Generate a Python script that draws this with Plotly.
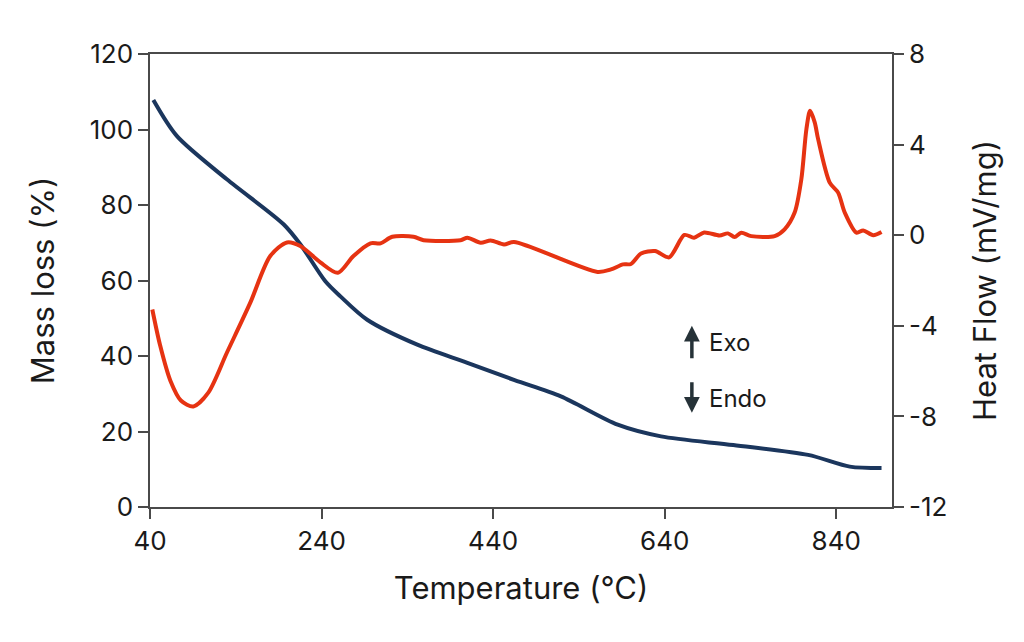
import plotly.graph_objects as go

# Mass loss (TGA) curve
mass_temp = [43.9, 71.2, 129.6, 195.7, 215.2, 244.4, 262.0, 293.2, 351.6, 410.0,
             465.0, 519.0, 585.2, 635.8, 720.0, 807.2, 855.8, 892.8]
mass_loss = [107.8, 98.3, 86.8, 74.9, 69.6, 59.8, 55.8, 49.6, 43.0, 38.2,
             33.6, 29.3, 21.8, 18.7, 16.4, 13.8, 10.7, 10.3]

# Heat flow (DSC) curve
hf_temp = [42.7, 51.7, 64.0, 76.0, 90.6, 108.0, 129.6, 156.8, 180.2, 199.7, 215.2,
           238.6, 259.0, 277.2, 297.0, 308.7, 322.4, 347.2, 358.9, 402.1, 410.0,
           425.5, 437.2, 452.7, 464.4, 561.8, 577.4, 591.4, 600.7, 612.4, 628.8,
           645.1, 663.0, 674.3, 686.0, 703.9, 713.7, 721.4, 729.3, 740.9, 768.2,
           779.8, 791.5, 799.3, 805.2, 809.5, 814.9, 818.9, 832.4, 842.2, 849.9,
           863.6, 871.4, 883.1, 892.8]
heat_flow = [-3.28, -4.85, -6.45, -7.30, -7.56, -6.95, -5.19, -2.99, -0.92, -0.32, -0.48,
             -1.20, -1.66, -0.92, -0.36, -0.36, -0.07, -0.07, -0.22, -0.22, -0.11,
             -0.33, -0.23, -0.41, -0.30, -1.62, -1.51, -1.29, -1.27, -0.81, -0.70,
             -0.98, 0.01, -0.11, 0.12, -0.01, 0.08, -0.08, 0.11, -0.04, -0.04,
             0.26, 1.00, 2.47, 4.68, 5.49, 4.98, 4.24, 2.32, 1.88, 1.00,
             0.11, 0.21, 0.00, 0.14]

x_ticks = [40, 240, 440, 640, 840]
left_ticks = [0, 20, 40, 60, 80, 100, 120]
right_ticks = [-12, -8, -4, 0, 4, 8]

FONT = "Inter"
AXIS_COLOR = "#4a4a4a"
TEXT_COLOR = "#1a1a1a"
TICK_SIZE = 26
TITLE_SIZE = 31

fig = go.Figure()
fig.add_trace(go.Scatter(x=mass_temp, y=mass_loss, mode="lines", yaxis="y",
                         line=dict(color="#1B365D", width=4, shape="spline", smoothing=0.8),
                         showlegend=False, hoverinfo="skip"))
fig.add_trace(go.Scatter(x=hf_temp, y=heat_flow, mode="lines", yaxis="y2",
                         line=dict(color="#E63312", width=4, shape="spline", smoothing=0.8),
                         showlegend=False, hoverinfo="skip"))

axis_common = dict(showgrid=False, zeroline=False, showline=True, linecolor=AXIS_COLOR,
                   linewidth=1.5, ticks="outside", ticklen=10, tickcolor=AXIS_COLOR,
                   tickwidth=1.5, tickfont=dict(size=TICK_SIZE, family=FONT, color=TEXT_COLOR))

fig.update_layout(
    width=1024, height=642,
    margin=dict(l=142, r=140, t=46, b=143, autoexpand=False),
    paper_bgcolor="white", plot_bgcolor="white",
    font=dict(family=FONT, color=TEXT_COLOR, size=22),
    xaxis=dict(range=[40, 905], tickvals=x_ticks, mirror=True,
               title=dict(text="Temperature (°C)", font=dict(size=TITLE_SIZE, family=FONT, color=TEXT_COLOR),
                          standoff=22),
               **axis_common),
    yaxis=dict(range=[0, 120], tickvals=left_ticks,
               title=dict(text="Mass loss (%)", font=dict(size=TITLE_SIZE, family=FONT, color=TEXT_COLOR),
                          standoff=26),
               **axis_common),
    yaxis2=dict(range=[-12, 8], tickvals=right_ticks, ticktext=[str(v) for v in right_ticks],
                overlaying="y", side="right",
                title=dict(text="Heat Flow (mV/mg)", font=dict(size=TITLE_SIZE, family=FONT, color=TEXT_COLOR),
                           standoff=28),
                **axis_common),
)

# Exo / Endo indicators
fig.add_annotation(x=671.7, y=48.0, xref="x", yref="y", text="", showarrow=True,
                   ax=0, ay=34, arrowhead=2, arrowsize=0.9, arrowwidth=3.5, arrowcolor="#263238")
fig.add_annotation(x=671.7, y=25.0, xref="x", yref="y", text="", showarrow=True,
                   ax=0, ay=-32, arrowhead=2, arrowsize=0.9, arrowwidth=3.5, arrowcolor="#263238")
fig.add_annotation(x=689, y=43.5, xref="x", yref="y", text="Exo", showarrow=False,
                   xanchor="left", yanchor="middle", font=dict(size=24, family=FONT, color=TEXT_COLOR))
fig.add_annotation(x=689, y=28.7, xref="x", yref="y", text="Endo", showarrow=False,
                   xanchor="left", yanchor="middle", font=dict(size=24, family=FONT, color=TEXT_COLOR))

fig.write_html("out.html")
